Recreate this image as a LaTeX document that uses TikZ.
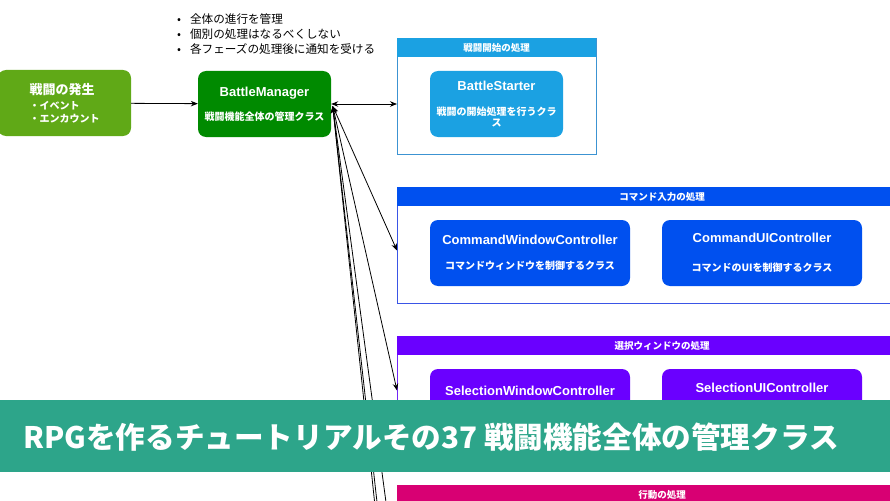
\documentclass[tikz,border=0pt]{standalone}
\usepackage{fontspec}
\setmainfont{Noto Sans CJK JP}
\newfontfamily\latinfont{Liberation Sans}
\usetikzlibrary{positioning, arrows.meta}
\definecolor{occurgreen}{HTML}{60A917}
\definecolor{mgrgreen}{HTML}{008A00}
\definecolor{starterblue}{HTML}{1BA1E2}
\definecolor{starterline}{HTML}{3C93D2}
\definecolor{cmdblue}{HTML}{0050EF}
\definecolor{cmdline}{HTML}{3A55E6}
\definecolor{selviolet}{HTML}{6A00FF}
\definecolor{selline}{HTML}{7326F5}
\definecolor{actpink}{HTML}{D80073}
\definecolor{actline}{HTML}{C81070}
\definecolor{bannergreen}{HTML}{2DA58A}
\newcommand\clstitle{\latinfont\bfseries\fontsize{13}{15}\selectfont}
\newcommand\clssub{\bfseries\fontsize{10}{12}\selectfont}
\tikzset{
	classbox/.style={
		rounded corners=8pt,
		text=white,
		align=center,
		minimum width=133pt,
		minimum height=66pt,
		inner sep=0pt,
	},
	widebox/.append style={
		classbox,
		minimum width=200pt,
	},
	lane/.style={
		draw,
		line width=1pt,
		anchor=north west,
		minimum height=116pt,
		inner sep=0pt,
	},
	lanehead/.style={
		text=white,
		anchor=north west,
		minimum height=19pt,
		inner sep=0pt,
		font={\bfseries\fontsize{9.5}{11}\selectfont},
	},
	link/.style={
		line width=0.8pt,
		{Stealth[length=7pt,width=5.5pt]}-{Stealth[length=7pt,width=5.5pt]},
	},
}

\begin{document}
\begin{tikzpicture}[x=1pt, y=-1pt]
\useasboundingbox (0,0) rectangle (890,500);
\clip (0,0) rectangle (890,500);

% notes on the manager
\node(notes)[anchor=north west, align=left, inner sep=0pt,
	font={\fontsize{11.6}{14.8}\selectfont}] at (177,13.5)
	{•\hspace{9pt}全体の進行を管理\\ •\hspace{9pt}個別の処理はなるべくしない\\ •\hspace{9pt}各フェーズの処理後に通知を受ける};

\node(occur)[classbox, fill=occurgreen, align=left] at (64.5,103)
	{{\bfseries\fontsize{13}{15}\selectfont 戦闘の発生}\\[3pt]
	 \clssub ・イベント\\[1pt] \clssub ・エンカウント};
\node(bmgr)[classbox, fill=mgrgreen] at (264.5,104)
	{\clstitle BattleManager\\[12pt] \clssub 戦闘機能全体の管理クラス};

% lanes
\node(start)[lane, draw=starterline, minimum width=199pt] at (397,38) {};
\node(starthead)[lanehead, fill=starterblue, minimum width=199pt] at (start.north west) {戦闘開始の処理};
\node(starter)[classbox, fill=starterblue] at (496.5,104)
	{\clstitle BattleStarter\\[13pt] \clssub 戦闘の開始処理を行うクラ\\[-0.5pt] \clssub ス};

\node(cmd)[lane, draw=cmdline, minimum width=530pt] at (397,187) {};
\node(cmdhead)[lanehead, fill=cmdblue, minimum width=530pt] at (cmd.north west) {コマンド入力の処理};
\node(cmdwin)[widebox, fill=cmdblue] at (530,253)
	{\clstitle CommandWindowController\\[13pt] \clssub コマンドウィンドウを制御するクラス};
\node(cmdui)[widebox, fill=cmdblue] at (762,253)
	{\clstitle CommandUIController\\[17pt] \clssub コマンドのUIを制御するクラス};

\node(sel)[lane, draw=selline, minimum width=530pt] at (397,336) {};
\node(selhead)[lanehead, fill=selviolet, minimum width=530pt] at (sel.north west) {選択ウィンドウの処理};
\node(selwin)[widebox, fill=selviolet,
	label={[text=white, font=\clstitle, anchor=north, yshift=-14pt]north:SelectionWindowController}] at (530,402) {};
\node(selui)[widebox, fill=selviolet,
	label={[text=white, font=\clstitle, anchor=north, yshift=-11pt]north:SelectionUIController}] at (762,402) {};

\node(act)[lane, draw=actline, minimum width=530pt] at (397,485) {};
\node(acthead)[lanehead, fill=actpink, minimum width=530pt] at (act.north west) {行動の処理};

% connectors
\coordinate(bmtip) at ([xshift=1.5pt, yshift=-2pt]bmgr.east);
\coordinate(cmdin) at ([yshift=-5pt]cmd.west);
\coordinate(selin) at ([yshift=4pt]sel.west);
\coordinate(lanefive) at (397,584);
\coordinate(lanesix) at (397,681);
\coordinate(laneseven) at (397,714);

\draw[-{Stealth[length=7pt,width=5.5pt]}, line width=0.8pt] (occur) -- (bmgr);
\draw[link] (bmgr.east) -- (bmgr.east -| start.west);
\draw[link] (bmtip) -- (cmdin);
\draw[link] (bmtip) -- (selin);
\draw[link] (bmtip) -- (lanefive);
\draw[link] (bmtip) -- (lanesix);
\draw[link] (bmtip) -- (laneseven);

% title banner
\node(banner)[fill=bannergreen, minimum width=890pt, minimum height=72pt,
	inner sep=0pt, anchor=north west] at (0,400) {};
\node(bannertext)[text=white, inner sep=0pt, font={\bfseries\fontsize{29.6}{32}\selectfont}]
	at (431,437) {RPGを作るチュートリアルその37 戦闘機能全体の管理クラス};

\end{tikzpicture}
\end{document}
